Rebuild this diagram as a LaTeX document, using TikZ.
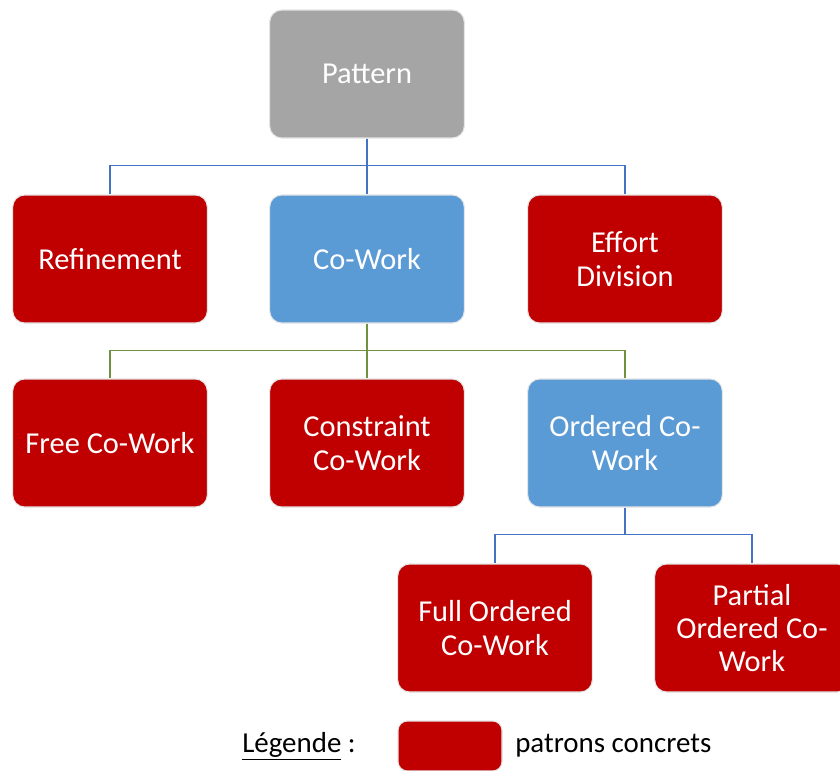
\documentclass[tikz,border=0pt]{standalone}
\usepackage{fontspec}
\setmainfont{Carlito}
\usetikzlibrary{positioning}
\definecolor{patred}{RGB}{192,0,0}
\definecolor{patblue}{RGB}{91,155,213}
\definecolor{patgray}{RGB}{165,165,165}
\definecolor{linkblue}{RGB}{68,114,196}
\definecolor{linkgreen}{RGB}{112,146,64}
\tikzset{
  box/.style={
    draw=white!80!gray,
    line width=0.8pt,
    rounded corners=9pt,
    minimum width=146pt,
    minimum height=96pt,
    align=center,
    inner sep=2pt,
    text=white,
    font=\fontsize{22.8}{25}\selectfont
  },
  concrete/.style={box, fill=patred},
  abstract/.style={box, fill=patblue},
  root/.style={box, fill=patgray},
  link/.style={line width=1.1pt, draw=linkblue},
  greenlink/.style={link, draw=linkgreen},
  legendbox/.style={fill=patred, draw=white!80!gray, line width=0.8pt, rounded corners=7pt,
    minimum width=78pt, minimum height=37.5pt},
  legendtext/.style={inner sep=0pt, text=black, font=\fontsize{21.7}{25}\selectfont}
}
\newcommand{\elbow}[3][link]{\draw[#1] (#2.south) -- ++(0,27) -| (#3.north);}

\begin{document}
\begin{tikzpicture}[x=0.75pt, y=-0.75pt]
  \useasboundingbox (0,0) rectangle (840,771);
  \clip (0,0) rectangle (840,771);
  \node[root]     (pattern)    at (367,74)  {Pattern};
  \node[concrete] (refinement) at (110,259) {Refinement};
  \node[abstract] (cowork)     at (367,259) {Co-Work};
  \node[concrete] (effort)     at (625,259) {Effort\\Division};
  \node[concrete] (free)       at (110,443) {Free Co-Work};
  \node[concrete] (constraint) at (367,443) {Constraint\\Co-Work};
  \node[abstract] (ordered)    at (625,443) {Ordered Co-\\Work};
  \node[concrete] (full)       at (495,628) {Full Ordered\\Co-Work};
  \node[concrete] (partial)    at (752,628) {Partial\\Ordered Co-\\Work};
  \elbow{pattern}{refinement}
  \elbow{pattern}{cowork}
  \elbow{pattern}{effort}
  \elbow[greenlink]{cowork}{free}
  \elbow[greenlink]{cowork}{constraint}
  \elbow[greenlink]{cowork}{ordered}
  \elbow{ordered}{full}
  \elbow{ordered}{partial}
  \node[legendbox]  (legend)  at (450,746) {};
  \node[legendtext] (legtitle) at (299,746) {\underline{Légende} :};
  \node[legendtext, anchor=west] (legdesc) at (515,746) {patrons concrets};
\end{tikzpicture}
\end{document}
